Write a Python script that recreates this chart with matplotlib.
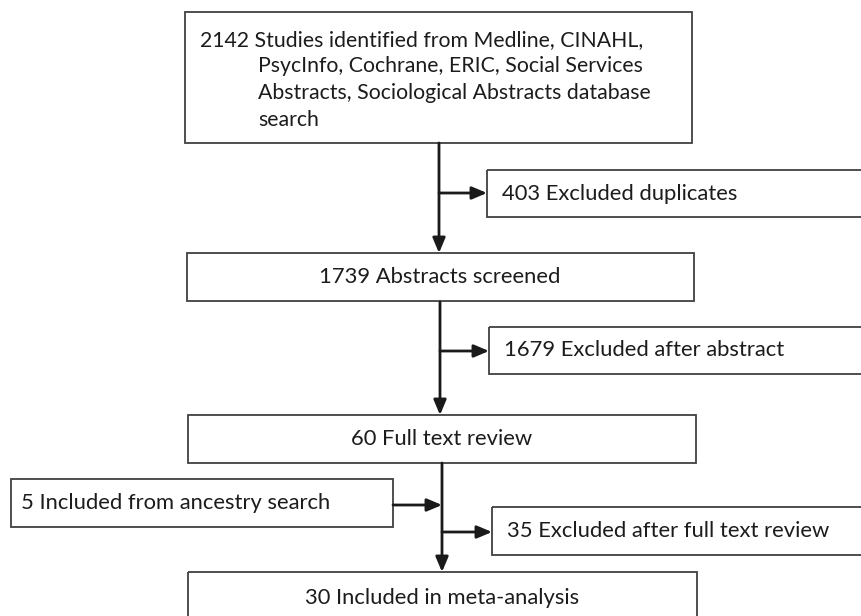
import matplotlib.pyplot as plt
from matplotlib.patches import Rectangle

plt.rcParams['font.family'] = ['Lato', 'DejaVu Sans']

# box texts
box_labels = ["1739 Abstracts screened", "60 Full text review", "30 Included in meta-analysis"]
side_labels = ["403 Excluded duplicates", "1679 Excluded after abstract",
               "35 Excluded after full text review"]
ancestry_label = "5 Included from ancestry search"
search_lines = ["2142 Studies identified from Medline, CINAHL,",
                "PsycInfo, Cochrane, ERIC, Social Services",
                "Abstracts, Sociological Abstracts database",
                "search"]

W, H = 861, 616
fig = plt.figure(figsize=(W / 100, H / 100), dpi=100)
ax = fig.add_axes([0, 0, 1, 1])
ax.set_xlim(0, W)
ax.set_ylim(H, 0)
ax.axis('off')

edge = '#404040'
tcol = '#1c1c1c'
fs = 15.8


def box(x0, y0, x1, y1):
    ax.add_patch(Rectangle((x0, y0), x1 - x0, y1 - y0, fill=False,
                           edgecolor=edge, linewidth=1.3, clip_on=False))


def arrow(x0, y0, x1, y1):
    ax.annotate('', xy=(x1, y1), xytext=(x0, y0),
                arrowprops=dict(arrowstyle='-|>,head_length=0.9,head_width=0.38',
                                color='#1a1a1a', lw=2, shrinkA=0, shrinkB=0))


# top search box
box(185, 12, 692, 143)
ax.text(200, 40, search_lines[0], fontsize=15.3, va='center', color=tcol)
for i, line in enumerate(search_lines[1:]):
    ax.text(258, 66 + i * 27, line, fontsize=15.3, va='center', color=tcol)

# main boxes
main = [(187, 253, 694, 301), (188, 415, 696, 463), (188, 572, 697, 640)]
for (x0, y0, x1, y1) in main:
    box(x0, y0, x1, y1)
ax.text(440, 277, box_labels[0], fontsize=fs, ha='center', va='center', color=tcol)
ax.text(442, 439, box_labels[1], fontsize=fs, ha='center', va='center', color=tcol)
ax.text(442, 598, box_labels[2], fontsize=fs, ha='center', va='center', color=tcol)

# side boxes
sides = [(487, 170, 880, 217), (489, 327, 880, 374), (492, 507, 880, 555)]
for (x0, y0, x1, y1), lab in zip(sides, side_labels):
    box(x0, y0, x1, y1)
    ax.text(x0 + 15, (y0 + y1) / 2, lab, fontsize=fs, va='center', color=tcol)

# ancestry box
box(11, 479, 393, 527)
ax.text(21, 503, ancestry_label, fontsize=fs, va='center', color=tcol)

# vertical connectors
arrow(439, 143, 439, 253)
arrow(440, 302, 440, 415)
arrow(442, 463, 442, 572)

# side arrows
arrow(439, 193, 487, 193)
arrow(440, 351, 489, 351)
arrow(442, 532, 492, 532)
arrow(393, 505, 442, 505)

fig.savefig('out.png', dpi=100)
